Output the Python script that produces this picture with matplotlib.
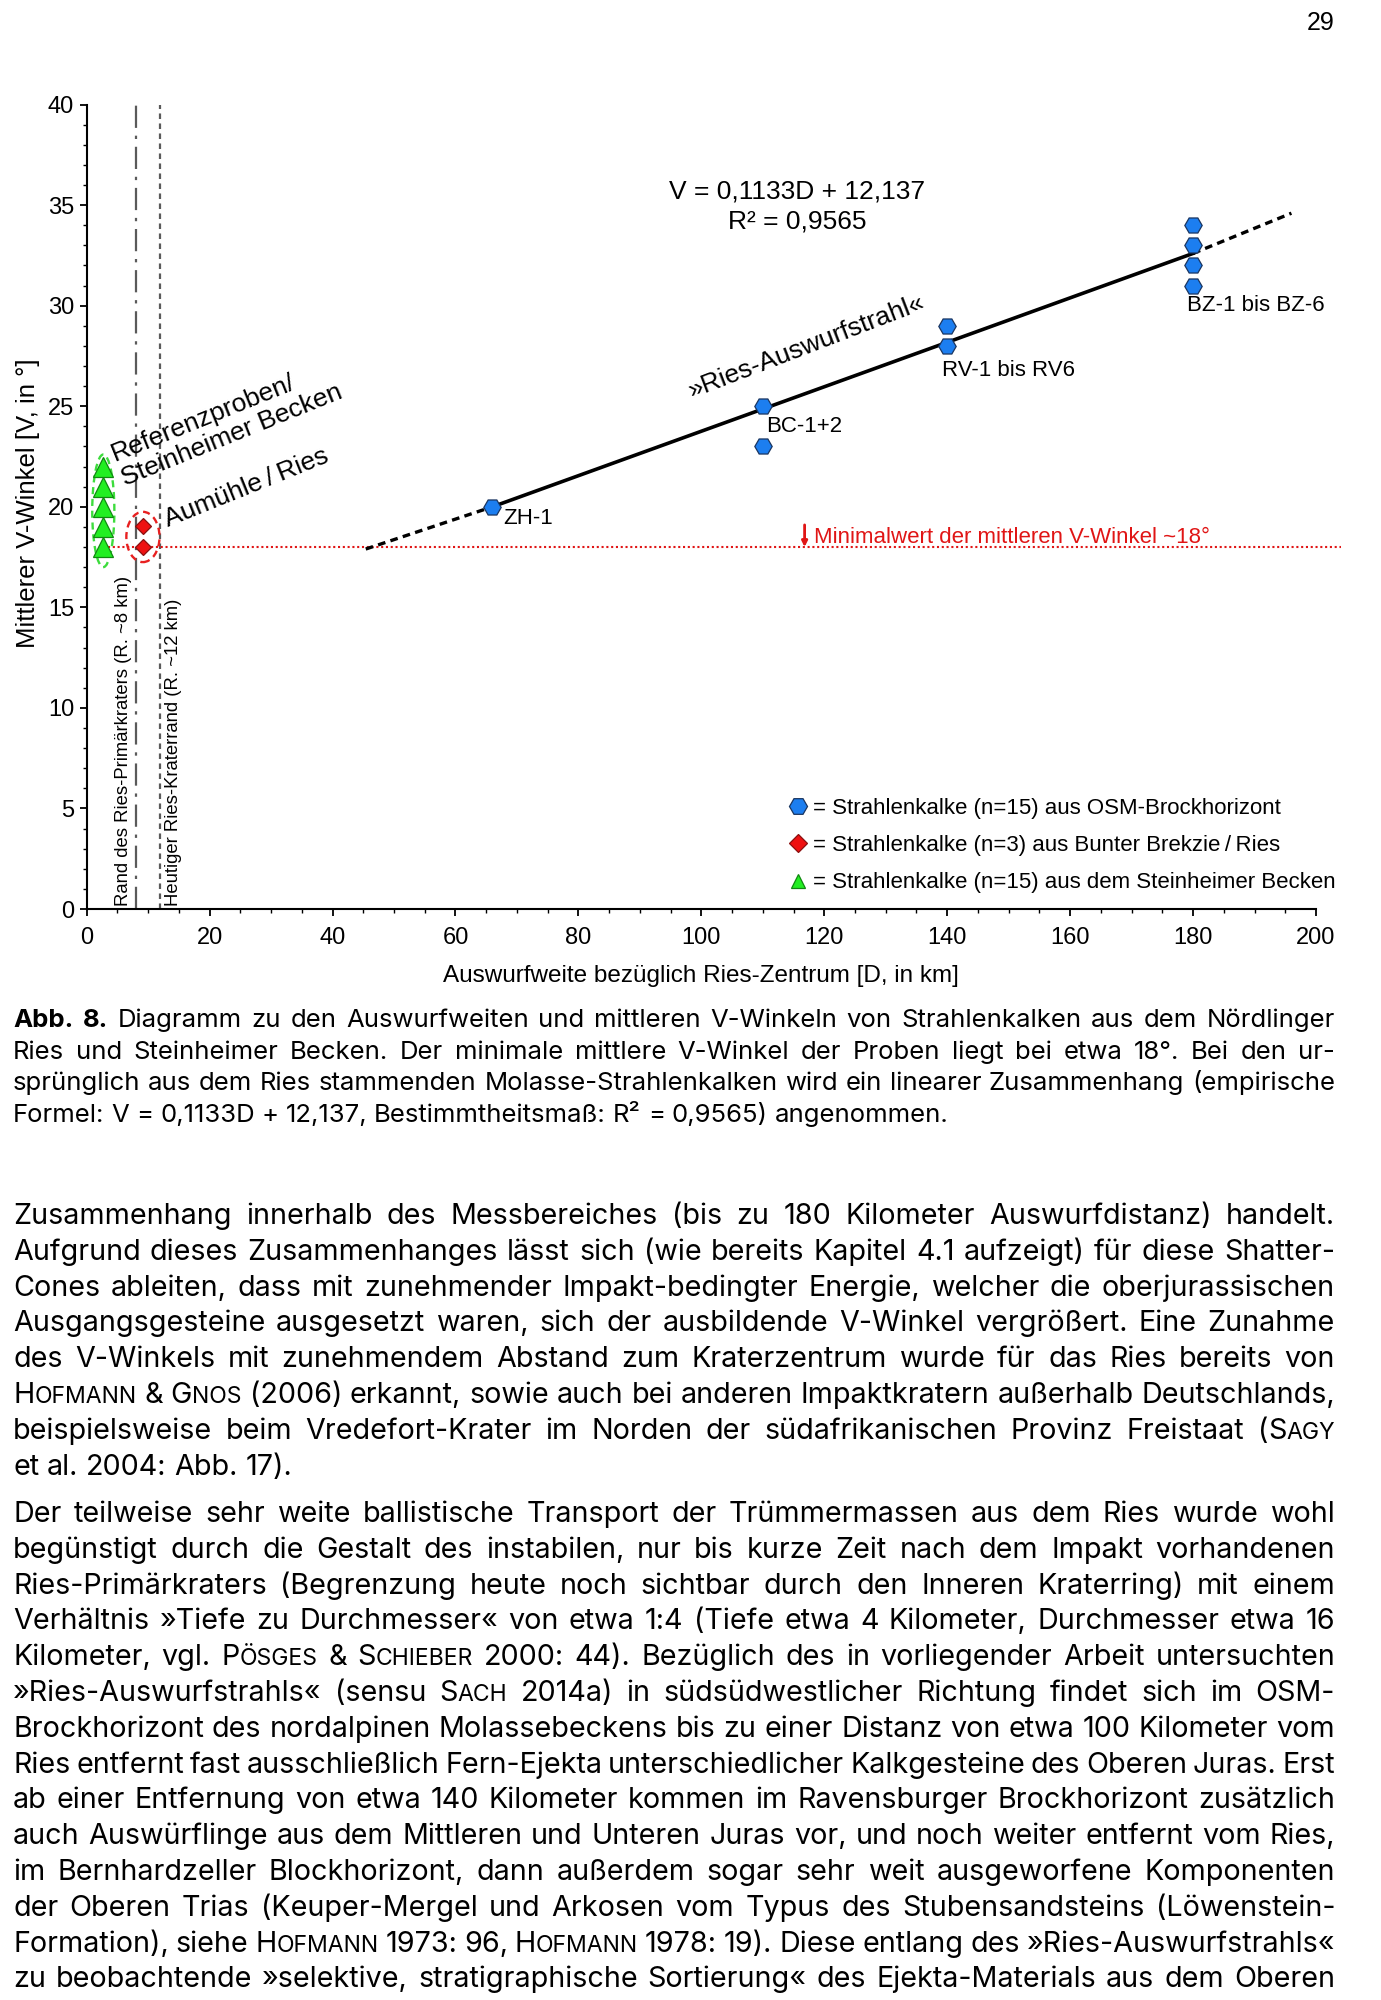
"""
    Abb. 8 - Auswurfweite und mittlerer V-Winkel (Seite 29)
"""

import re
from functools import lru_cache

import matplotlib
matplotlib.use("Agg")
import matplotlib.pyplot as plt
from matplotlib.font_manager import FontProperties
from matplotlib.lines import Line2D
from matplotlib.patches import Ellipse
from matplotlib.ticker import MultipleLocator

FAMILY = ["Liberation Sans", "DejaVu Sans"]
TEXT_FAMILY = ["Inter", "Liberation Sans", "DejaVu Sans"]
plt.rcParams["font.family"] = FAMILY

W, H = 1381, 2000

# ---------------- Daten ----------------
steinheim_d = [2.6, 2.6, 2.6, 2.6, 2.6]
steinheim_v = [18, 19, 20, 21, 22]

ries_d = [9.2, 9.2]
ries_v = [18, 19.05]

osm_d = [66, 110, 110, 140, 140, 180, 180, 180, 180]
osm_v = [20, 25, 23, 29, 28, 34, 33, 32, 31]

osm_labels = ["ZH-1", "BC-1+2", "RV-1 bis RV6", "BZ-1 bis BZ-6"]
label_d = [67.8, 110.6, 139.2, 179.0]
label_v = [19.4, 24.0, 26.8, 30.0]

trend_d = [66, 180]
trend_v = [20.0, 32.6]
trend_lo_d = [45.4, 66]
trend_lo_v = [17.9, 20.0]
trend_hi_d = [180, 196]
trend_hi_v = [32.6, 34.6]

v_min = 18
rand_primaer = 8
rand_heute = 12

legend_labels = [
    "= Strahlenkalke (n=15) aus OSM-Brockhorizont",
    "= Strahlenkalke (n=3) aus Bunter Brekzie\u2009/\u2009Ries",
    "= Strahlenkalke (n=15) aus dem Steinheimer Becken",
]

# ---------------- Text der Seite ----------------
caption_lines = [
    "!Abb. !8.  Diagramm zu den Auswurfweiten und mittleren V-Winkeln von Strahlenkalken aus dem Nördlinger",
    "Ries und Steinheimer Becken. Der minimale mittlere V-Winkel der Proben liegt bei etwa 18°. Bei den ur-",
    "sprünglich aus dem Ries stammenden Molasse-Strahlenkalken wird ein linearer Zusammenhang (empirische",
    "Formel: V = 0,1133D + 12,137,  Bestimmtheitsmaß: R² = 0,9565) angenommen.",
]
para1_lines = [
    "Zusammenhang innerhalb des Messbereiches (bis zu 180 Kilometer Auswurfdistanz) handelt.",
    "Aufgrund dieses Zusammenhanges lässt sich (wie bereits Kapitel 4.1 aufzeigt) für diese Shatter-",
    "Cones ableiten, dass mit zunehmender Impakt-bedingter Energie, welcher die oberjurassischen",
    "Ausgangsgesteine ausgesetzt waren, sich der ausbildende V-Winkel vergrößert. Eine Zunahme",
    "des V-Winkels mit zunehmendem Abstand zum Kraterzentrum wurde für das Ries bereits von",
    "{Hofmann} & {Gnos} (2006) erkannt, sowie auch bei anderen Impaktkratern außerhalb Deutschlands,",
    "beispielsweise beim Vredefort-Krater im Norden der südafrikanischen Provinz Freistaat ({Sagy}",
    "et al. 2004: Abb. 17).",
]
para2_lines = [
    "Der teilweise sehr weite ballistische Transport der Trümmermassen aus dem Ries wurde wohl",
    "begünstigt durch die Gestalt des instabilen, nur bis kurze Zeit nach dem Impakt vorhandenen",
    "Ries-Primärkraters (Begrenzung heute noch sichtbar durch den Inneren Kraterring) mit einem",
    "Verhältnis »Tiefe zu Durchmesser« von etwa 1:4 (Tiefe etwa 4 Kilometer, Durchmesser etwa 16",
    "Kilometer, vgl. {Pösges} & {Schieber} 2000: 44). Bezüglich des in vorliegender Arbeit untersuchten",
    "»Ries-Auswurfstrahls« (sensu {Sach} 2014a) in südsüdwestlicher Richtung findet sich im OSM-",
    "Brockhorizont des nordalpinen Molassebeckens bis zu einer Distanz von etwa 100 Kilometer vom",
    "Ries entfernt fast ausschließlich Fern-Ejekta unterschiedlicher Kalkgesteine des Oberen Juras. Erst",
    "ab einer Entfernung von etwa 140 Kilometer kommen im Ravensburger Brockhorizont zusätzlich",
    "auch Auswürflinge aus dem Mittleren und Unteren Juras vor, und noch weiter entfernt vom Ries,",
    "im Bernhardzeller Blockhorizont, dann außerdem sogar sehr weit ausgeworfene Komponenten",
    "der Oberen Trias (Keuper-Mergel und Arkosen vom Typus des Stubensandsteins (Löwenstein-",
    "Formation), siehe {Hofmann} 1973: 96, {Hofmann} 1978: 19). Diese entlang des »Ries-Auswurfstrahls«",
    "zu beobachtende »selektive, stratigraphische Sortierung« des Ejekta-Materials aus dem Oberen",
]

fig = plt.figure(figsize=(W / 100, H / 100), dpi=100)
renderer = fig.canvas.get_renderer()

# ---------------- Diagramm ----------------
ax = fig.add_axes([86.7 / W, 1 - 909 / H, (1316 - 86.7) / W, (909 - 104.6) / H])
ax.set_xlim(0, 200)
ax.set_ylim(0, 40)
for side in ["top", "right"]:
    ax.spines[side].set_visible(False)
for side in ["left", "bottom"]:
    ax.spines[side].set_linewidth(1.5)
ax.xaxis.set_major_locator(MultipleLocator(20))
ax.xaxis.set_minor_locator(MultipleLocator(5))
ax.yaxis.set_major_locator(MultipleLocator(5))
ax.yaxis.set_minor_locator(MultipleLocator(1))
ax.tick_params(which="major", length=5, width=1.3, labelsize=17, pad=4)
ax.tick_params(which="minor", length=3, width=1.0)
ax.tick_params(axis="x", which="major", pad=8)

ax.set_xlabel("Auswurfweite bezüglich Ries-Zentrum [D, in km]", fontsize=17.5)
ax.xaxis.set_label_coords(0.5, -0.0696)
ax.set_ylabel("Mittlerer V-Winkel [V, in °]", fontsize=18.5)
ax.yaxis.set_label_coords(-0.038, 0.505)

# Kraterränder
ax.axvline(rand_primaer, color="#5a5a5a", lw=1.6, ls=(0, (10, 3.5, 1.5, 3.5)), zorder=1)
ax.axvline(rand_heute, color="#5a5a5a", lw=1.6, ls=(0, (2.5, 2)), zorder=1)
ax.text(6.0, 0.15, "Rand des Ries-Primärkraters (R. ~8 km)", rotation=90,
        ha="center", va="bottom", fontsize=13.3)
ax.text(14.1, 0.15, "Heutiger Ries-Kraterrand (R. ~12 km)", rotation=90,
        ha="center", va="bottom", fontsize=13.3)

# Minimalwert
ax.hlines(v_min, 3.5, 204, colors="#e01515", lw=1.5, linestyles=(0, (1, 1.3)),
          clip_on=False, zorder=2)
ax.annotate("", xy=(116.8, v_min), xytext=(116.8, 19.1),
            arrowprops=dict(arrowstyle="-|>", color="#e01515", lw=2,
                            mutation_scale=8, shrinkA=0, shrinkB=0))
ax.text(118.3, 18.45, "Minimalwert der mittleren V-Winkel ~18°", color="#e01515",
        ha="left", va="center", fontsize=16)

# Regressionsgerade
ax.plot(trend_d, trend_v, color="black", lw=2.6, zorder=3)
ax.plot(trend_lo_d, trend_lo_v, color="black", lw=2.4, ls=(0, (2.3, 1.6)), zorder=3)
ax.plot(trend_hi_d, trend_hi_v, color="black", lw=2.4, ls=(0, (2.3, 1.6)), zorder=3)

ax.text(115.6, 35.7, "V = 0,1133D + 12,137", ha="center", va="center", fontsize=19)
ax.text(115.6, 34.2, "R² = 0,9565", ha="center", va="center", fontsize=19)
ax.text(98.5, 25.4, "»Ries-Auswurfstrahl«", rotation=21, rotation_mode="anchor",
        ha="left", va="baseline", fontsize=19)

# Ellipsen
ax.add_patch(Ellipse((2.7, 19.8), 3.6, 5.6, fill=False, ec="#3ddc3d", lw=1.7,
                     ls=(0, (3, 2)), zorder=4))
ax.add_patch(Ellipse((9.15, 18.5), 5.4, 2.5, fill=False, ec="#e82020", lw=1.7,
                     ls=(0, (3, 2)), zorder=4))

# Messpunkte
hex_style = dict(ls="none", marker="H", mfc="#1c7ef0", mec="#1a3560", mew=0.9)
dia_style = dict(ls="none", marker="D", mfc="#ee1111", mec="#8a1010", mew=0.9)
tri_style = dict(ls="none", marker="^", mfc="#22ee22", mec="#118811", mew=0.9)

ax.plot(osm_d, osm_v, ms=12.5, zorder=6, **hex_style)
ax.plot(ries_d, ries_v, ms=8, zorder=6, **dia_style)
ax.plot(steinheim_d, steinheim_v, ms=14, zorder=6, **tri_style)

for name, d, v in zip(osm_labels, label_d, label_v):
    ax.text(d, v, name, ha="left", va="center", fontsize=16)

ax.text(6.1, 21.14, "Referenzproben/\nSteinheimer Becken", rotation=22,
        rotation_mode="anchor", ha="left", va="baseline", fontsize=19, linespacing=1.1)
ax.text(13.2, 19.0, "Aumühle\u2009/\u2009Ries", rotation=22, rotation_mode="anchor",
        ha="left", va="baseline", fontsize=19)

handles = [
    Line2D([], [], ms=13, **hex_style),
    Line2D([], [], ms=9, **dia_style),
    Line2D([], [], ms=9.5, **tri_style),
]
ax.legend(handles, legend_labels, loc="upper left", bbox_to_anchor=(0.571, 0.138),
          frameon=False, fontsize=16, handlelength=0.8, handletextpad=0.3,
          labelspacing=0.73, borderpad=0, borderaxespad=0)

# ---------------- Blocksatz ----------------
@lru_cache(maxsize=None)
def text_width(txt, size, bold):
    prop = FontProperties(family=TEXT_FAMILY, size=size, weight="bold" if bold else "normal")
    w, _, _ = renderer.get_text_width_height_descent(txt, prop, ismath=False)
    return w


def word_pieces(word, size):
    bold = word.startswith("!")
    word = word.lstrip("!")
    out = []
    for k, part in enumerate(re.split(r"[{}]", word)):
        if not part:
            continue
        if k % 2:  # Kapitälchen
            out.append((part[0], size, bold))
            if len(part) > 1:
                out.append((part[1:].upper(), round(size * 0.8, 2), bold))
        else:
            out.append((part, size, bold))
    return out


def word_width(word, size):
    return sum(text_width(t, s, b) for t, s, b in word_pieces(word, size))


def line_size(line, size, x0, x1):
    # zu volle Zeilen werden etwas enger gesetzt
    words = line.split()
    while size > 10:
        total = sum(word_width(w, size) for w in words)
        gap = (x1 - x0 - total) / max(len(words) - 1, 1)
        if gap >= 0.17 * size * 100 / 72:
            break
        size = round(size - 0.1, 2)
    return size


def draw_line(line, y, size, x0, x1, just):
    words = line.split()
    size = line_size(line, size, x0, x1)
    widths = [word_width(w, size) for w in words]
    if just and len(words) > 1:
        gap = (x1 - x0 - sum(widths)) / (len(words) - 1)
    else:
        gap = 0.27 * size * 100 / 72
    x = x0
    for w, wd in zip(words, widths):
        xp = x
        for t, s, b in word_pieces(w, size):
            fig.text(xp / W, 1 - y / H, t, fontsize=s, family=TEXT_FAMILY,
                     fontweight="bold" if b else "normal", ha="left", va="baseline")
            xp += text_width(t, s, b)
        x += wd + gap


X0, X1 = 13, 1335
CAP_SIZE = 18.5
BODY_SIZE = 20.7

cap_flags = [True] * (len(caption_lines) - 1) + [False]
p1_flags = [True] * (len(para1_lines) - 1) + [False]
p2_flags = [True] * len(para2_lines)

for i, (line, just) in enumerate(zip(caption_lines, cap_flags)):
    draw_line(line, 1027 + i * 31.7, CAP_SIZE, X0, X1, just)
for i, (line, just) in enumerate(zip(para1_lines, p1_flags)):
    draw_line(line, 1224 + i * 35.8, BODY_SIZE, X0, X1, just)
for i, (line, just) in enumerate(zip(para2_lines, p2_flags)):
    draw_line(line, 1522 + i * 35.8, BODY_SIZE, X0, X1, just)

fig.text(1335 / W, 1 - 30 / H, "29", ha="right", va="baseline", fontsize=18)

fig.savefig("out.png", dpi=100)
